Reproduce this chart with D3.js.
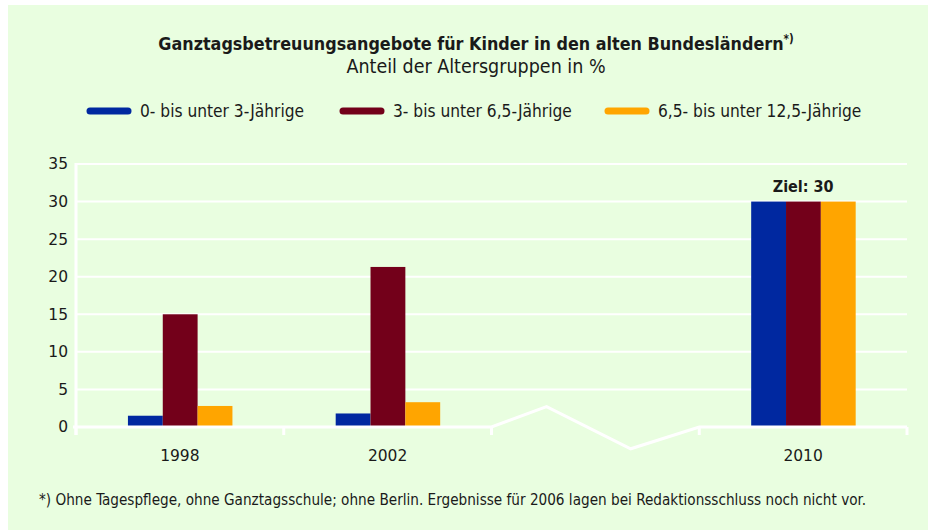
<!DOCTYPE html>
<html>
<head>
<meta charset="utf-8">
<script src="https://cdn.jsdelivr.net/npm/d3@7"></script>
<style>
  body { margin: 0; background: #ffffff; }
  text { fill: #1a1a1a; }
  .narrow { font-family: "Liberation Sans Narrow", "DejaVu Sans Condensed", sans-serif; }
  .num { font-family: "DejaVu Sans", sans-serif; font-size: 15.5px; }
</style>
</head>
<body>
<div id="chart"></div>
<script>
// values (percent of age group)
const years = ["1998", "2002", "2006", "2010"];
const yearLabels = ["1998", "2002", "", "2010"];
const seriesNames = ["0- bis unter 3-Jährige", "3- bis unter 6,5-Jährige", "6,5- bis unter 12,5-Jährige"];
const under3 = [1.5, 1.8, null, 30];
const under65 = [15.0, 21.3, null, 30];
const under125 = [2.8, 3.3, null, 30];
const yTicks = [0, 5, 10, 15, 20, 25, 30, 35];
const colors = ["#0028a0", "#73001a", "#ffa500"];
const goalLabel = "Ziel: 30";

function drawChart() {
  const width = 932;
  const height = 530;
  const left = 76, right = 907, top = 164, bottom = 427;

  const svg = d3.select("#chart")
    .append("svg")
    .attr("width", width)
    .attr("height", height);

  // green panel
  svg.append("rect")
    .attr("x", 8).attr("y", 5)
    .attr("width", 920).attr("height", 525)
    .attr("fill", "#e9fee0");

  const xScale = d3.scaleBand()
    .domain(years)
    .range([left, right])
    .padding(0);

  const inner = d3.scaleBand()
    .domain(d3.range(3))
    .range([xScale.bandwidth() * 0.25, xScale.bandwidth() * 0.753])
    .padding(0);

  const yScale = d3.scaleLinear()
    .domain([0, 35])
    .range([bottom, top]);

  // gridlines
  svg.append("g")
    .selectAll("line")
    .data(yTicks.slice(1))
    .enter().append("line")
    .attr("x1", left).attr("x2", right)
    .attr("y1", d => yScale(d)).attr("y2", d => yScale(d))
    .attr("stroke", "#ffffff")
    .attr("stroke-width", 2);

  // y axis line
  svg.append("line")
    .attr("x1", left).attr("x2", left)
    .attr("y1", yScale(35) - 1).attr("y2", bottom + 8)
    .attr("stroke", "#ffffff")
    .attr("stroke-width", 3);

  const yAxis = d3.axisLeft(yScale)
    .tickValues(yTicks)
    .tickSize(0)
    .tickPadding(8);

  svg.append("g")
    .attr("class", "axis y-axis num")
    .attr("transform", `translate(${left}, 0)`)
    .call(yAxis)
    .call(g => g.select(".domain").remove())
    .call(g => g.selectAll("text").attr("font-family", "DejaVu Sans").attr("font-size", 15.5).attr("fill", "#1a1a1a"));

  // bars
  const series = [under3, under65, under125];
  series.forEach((vals, si) => {
    svg.append("g")
      .selectAll("rect")
      .data(years.map((y, i) => ({ year: y, value: vals[i] })).filter(d => d.value != null))
      .enter().append("rect")
      .attr("x", d => xScale(d.year) + inner(si))
      .attr("y", d => yScale(d.value))
      .attr("width", inner.bandwidth())
      .attr("height", d => yScale(0) - yScale(d.value))
      .attr("fill", colors[si]);
  });

  // x axis baseline with break for 2006
  const gapStart = xScale("2006");
  const gapEnd = gapStart + xScale.bandwidth();
  const bw = xScale.bandwidth();
  const axisPts = [
    [left - 3, yScale(0)],
    [gapStart, yScale(0)],
    [gapStart + bw * 0.265, yScale(2.7)],
    [gapStart + bw * 0.67, yScale(-2.9)],
    [gapEnd, yScale(0)],
    [right, yScale(0)]
  ];
  svg.append("path")
    .attr("d", d3.line()(axisPts))
    .attr("fill", "none")
    .attr("stroke", "#ffffff")
    .attr("stroke-width", 3)
    .attr("stroke-linejoin", "miter");

  // x ticks at band edges
  const edges = years.map(y => xScale(y)).concat([right]);
  svg.append("g")
    .selectAll("line")
    .data(edges)
    .enter().append("line")
    .attr("x1", d => d).attr("x2", d => d)
    .attr("y1", yScale(0)).attr("y2", yScale(0) + 8)
    .attr("stroke", "#ffffff")
    .attr("stroke-width", 3);

  svg.append("g")
    .selectAll("text")
    .data(years)
    .enter().append("text")
    .attr("class", "num")
    .attr("x", d => xScale(d) + bw / 2)
    .attr("y", 460.5)
    .attr("text-anchor", "middle")
    .text((d, i) => yearLabels[i]);

  // goal label above 2010
  svg.append("text")
    .attr("class", "narrow")
    .attr("x", xScale("2010") + bw / 2)
    .attr("y", yScale(30) - 10)
    .attr("text-anchor", "middle")
    .attr("font-weight", "bold")
    .attr("font-size", 16)
    .text(goalLabel);

  // title
  const title = svg.append("text")
    .attr("class", "narrow")
    .attr("x", 476)
    .attr("y", 50)
    .attr("text-anchor", "middle")
    .attr("font-weight", "bold")
    .attr("font-size", 17.8);
  title.append("tspan").text("Ganztagsbetreuungsangebote für Kinder in den alten Bundesländern");
  title.append("tspan").attr("font-size", 11.5).attr("dy", -7).text("*)");

  svg.append("text")
    .attr("class", "narrow")
    .attr("x", 476)
    .attr("y", 73)
    .attr("text-anchor", "middle")
    .attr("font-size", 19.5)
    .text("Anteil der Altersgruppen in %");

  // legend
  const legendX = [87, 340, 605];
  const legend = svg.append("g")
    .selectAll("g")
    .data(seriesNames)
    .enter().append("g")
    .attr("transform", (d, i) => `translate(${legendX[i]}, 111)`);

  legend.append("line")
    .attr("x1", 3).attr("x2", 41)
    .attr("stroke", (d, i) => colors[i])
    .attr("stroke-width", 7)
    .attr("stroke-linecap", "round");

  legend.append("text")
    .attr("class", "narrow")
    .attr("x", 53)
    .attr("y", 6)
    .attr("font-size", 17.2)
    .text(d => d);

  // footnote
  svg.append("text")
    .attr("class", "narrow")
    .attr("x", 39)
    .attr("y", 505)
    .attr("font-size", 15.15)
    .text("*) Ohne Tagespflege, ohne Ganztagsschule; ohne Berlin. Ergebnisse für 2006 lagen bei Redaktionsschluss noch nicht vor.");
}

window.onload = drawChart;
</script>
</body>
</html>
